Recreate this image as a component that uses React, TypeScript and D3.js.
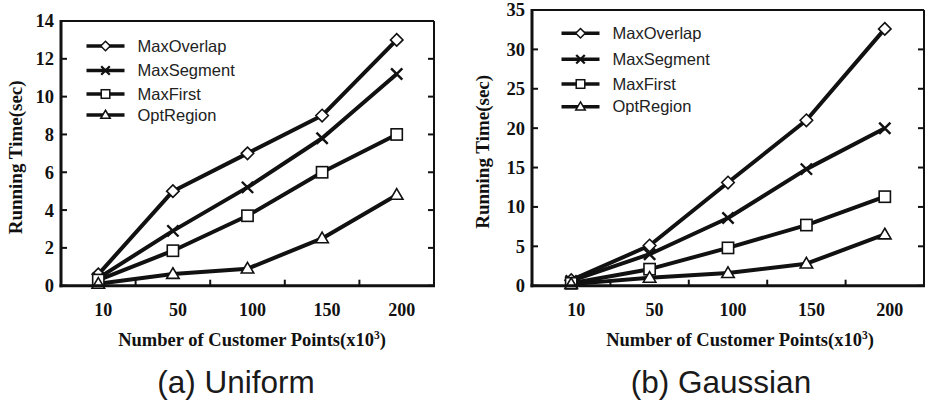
import React from "react";
import * as d3 from "d3";

// Shared x categories: number of customer points (x10^3)
const categories = ["10", "50", "100", "150", "200"];
const seriesNames = ["MaxOverlap", "MaxSegment", "MaxFirst", "OptRegion"];
const markerKinds = ["diamond", "cross", "square", "triangle"];

// (a) Uniform — running time in seconds
const uniformMaxOverlap = [0.6, 5.0, 7.0, 9.0, 13.0];
const uniformMaxSegment = [0.4, 2.9, 5.2, 7.8, 11.2];
const uniformMaxFirst = [0.3, 1.85, 3.7, 6.0, 8.0];
const uniformOptRegion = [0.1, 0.62, 0.9, 2.5, 4.8];
const uniformTicks = [0, 2, 4, 6, 8, 10, 12, 14];

// (b) Gaussian — running time in seconds
const gaussMaxOverlap = [0.7, 5.1, 13.1, 21.0, 32.6];
const gaussMaxSegment = [0.6, 4.0, 8.6, 14.8, 20.0];
const gaussMaxFirst = [0.3, 2.1, 4.8, 7.7, 11.3];
const gaussOptRegion = [0.2, 1.0, 1.6, 2.8, 6.5];
const gaussTicks = [0, 5, 10, 15, 20, 25, 30, 35];

const SERIF = "'Liberation Serif', 'Times New Roman', serif";
const SANS = "'Liberation Sans', Arial, Helvetica, sans-serif";

function Marker({ kind, x, y, s, sw }: { kind: string; x: number; y: number; s: number; sw: number }) {
  const h = s / 2;
  if (kind === "diamond") {
    return (
      <path
        d={`M${x},${y - h}L${x + h},${y}L${x},${y + h}L${x - h},${y}Z`}
        fill="#fff"
        stroke="#111"
        strokeWidth={sw}
      />
    );
  }
  if (kind === "cross") {
    const c = h * 0.9;
    return (
      <path
        d={`M${x - c},${y - c}L${x + c},${y + c}M${x - c},${y + c}L${x + c},${y - c}`}
        fill="none"
        stroke="#111"
        strokeWidth={sw * 1.5}
      />
    );
  }
  if (kind === "square") {
    const q = h * 0.9;
    return <rect x={x - q} y={y - q} width={2 * q} height={2 * q} fill="#fff" stroke="#111" strokeWidth={sw} />;
  }
  // triangle
  return (
    <path
      d={`M${x},${y - h}L${x + h},${y + h * 0.7}L${x - h},${y + h * 0.7}Z`}
      fill="#fff"
      stroke="#111"
      strokeWidth={sw}
    />
  );
}

type PanelProps = {
  left: number;
  right: number;
  top: number;
  bottom: number;
  yMax: number;
  ticks: number[];
  series: number[][];
  legendX: number;
  legendRows: number[];
  yTitleX: number;
  xTitleX: number;
  caption: string;
  captionX: number;
};

function Panel(p: PanelProps) {
  const x = d3.scalePoint<string>().domain(categories).range([p.left, p.right]).padding(0.5);
  const y = d3.scaleLinear().domain([0, p.yMax]).range([p.bottom, p.top]);
  const step = x.step();
  const line = d3
    .line<number>()
    .x((_, i) => x(categories[i]) as number)
    .y((v) => y(v));

  return (
    <g>
      {/* data lines */}
      {p.series.map((vals, si) => (
        <path key={"l" + si} d={line(vals) || ""} fill="none" stroke="#111" strokeWidth={4} strokeLinejoin="round" />
      ))}
      {/* markers */}
      {p.series.map((vals, si) =>
        vals.map((v, i) => (
          <Marker key={`m${si}-${i}`} kind={markerKinds[si]} x={x(categories[i]) as number} y={y(v)} s={12.5} sw={1.6} />
        ))
      )}

      {/* frame */}
      <line x1={p.left} x2={p.right} y1={p.top} y2={p.top} stroke="#111" strokeWidth={2} />
      <line x1={p.right} x2={p.right} y1={p.top} y2={p.bottom} stroke="#111" strokeWidth={2} />
      <line x1={p.left} x2={p.left} y1={p.top - 1} y2={p.bottom + 1.5} stroke="#111" strokeWidth={3} />
      <line x1={p.left - 1.5} x2={p.right + 1} y1={p.bottom} y2={p.bottom} stroke="#111" strokeWidth={3} />

      {/* y ticks, both sides, inward */}
      {p.ticks.map((t) => (
        <g key={"yt" + t}>
          <line x1={p.left} x2={p.left + 6} y1={y(t)} y2={y(t)} stroke="#111" strokeWidth={2} />
          <line x1={p.right - 6} x2={p.right} y1={y(t)} y2={y(t)} stroke="#111" strokeWidth={2} />
          <text
            x={p.left - 7}
            y={y(t)}
            dy="0.35em"
            textAnchor="end"
            fontFamily={SERIF}
            fontWeight="bold"
            fontSize={18.5}
            fill="#111"
          >
            {t}
          </text>
        </g>
      ))}

      {/* x ticks at category boundaries */}
      {categories.slice(1).map((c) => {
        const bx = (x(c) as number) - step / 2;
        return <line key={"xt" + c} x1={bx} x2={bx} y1={p.bottom} y2={p.bottom - 6} stroke="#111" strokeWidth={2} />;
      })}
      {categories.map((c) => (
        <text
          key={"xl" + c}
          x={(x(c) as number) + 5}
          y={316}
          textAnchor="middle"
          fontFamily={SERIF}
          fontWeight="bold"
          fontSize={18}
          fill="#111"
        >
          {c}
        </text>
      ))}

      {/* axis titles */}
      <text
        transform={`translate(${p.yTitleX},${(p.top + p.bottom) / 2 + 4}) rotate(-90)`}
        textAnchor="middle"
        dy="0.35em"
        fontFamily={SERIF}
        fontWeight="bold"
        fontSize={19}
        fill="#111"
      >
        Running Time(sec)
      </text>
      <text x={p.xTitleX} y={346} textAnchor="middle" fontFamily={SERIF} fontWeight="bold" fontSize={18.5} fill="#111">
        Number of Customer Points(x10
        <tspan fontSize={11.5} dy={-7}>
          3
        </tspan>
        <tspan dy={7}>)</tspan>
      </text>

      {/* legend */}
      {seriesNames.map((name, si) => (
        <g key={"lg" + si}>
          <line
            x1={p.legendX}
            x2={p.legendX + 38}
            y1={p.legendRows[si]}
            y2={p.legendRows[si]}
            stroke="#111"
            strokeWidth={3.5}
          />
          <Marker kind={markerKinds[si]} x={p.legendX + 19} y={p.legendRows[si]} s={9.5} sw={1.5} />
          <text
            x={p.legendX + 51}
            y={p.legendRows[si]}
            dy="0.35em"
            fontFamily={SANS}
            fontSize={16.5}
            fill="#222"
          >
            {name}
          </text>
        </g>
      ))}

      {/* caption */}
      <text x={p.captionX} y={393} textAnchor="middle" fontFamily={SANS} fontSize={31.5} fill="#1a1a1a">
        {p.caption}
      </text>
    </g>
  );
}

export default function App() {
  return (
    <svg width={928} height={402} style={{ display: "block", position: "absolute", left: 0, top: 0, background: "#fff" }}>
      <rect width={928} height={402} fill="#fff" />
      <Panel
        left={61}
        right={434}
        top={21}
        bottom={285.7}
        yMax={14}
        ticks={uniformTicks}
        series={[uniformMaxOverlap, uniformMaxSegment, uniformMaxFirst, uniformOptRegion]}
        legendX={86.5}
        legendRows={[46, 70.5, 94, 115]}
        yTitleX={15}
        xTitleX={252}
        caption="(a) Uniform"
        captionX={236}
      />
      <Panel
        left={532}
        right={924}
        top={10}
        bottom={285.7}
        yMax={35}
        ticks={gaussTicks}
        series={[gaussMaxOverlap, gaussMaxSegment, gaussMaxFirst, gaussOptRegion]}
        legendX={561.5}
        legendRows={[33.3, 59.3, 84, 106.7]}
        yTitleX={482}
        xTitleX={740}
        caption="(b) Gaussian"
        captionX={721}
      />
    </svg>
  );
}
